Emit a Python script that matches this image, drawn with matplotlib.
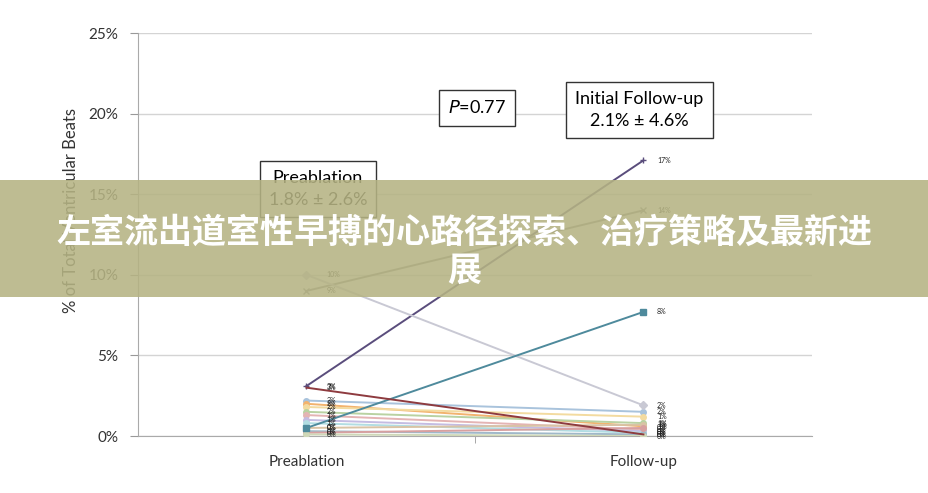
import matplotlib
matplotlib.use('Agg')
import matplotlib.pyplot as plt

plt.rcParams['font.family'] = ['Lato', 'DejaVu Sans']

# данные: значения до абляции и при контроле (по пациентам)
phases = ['Preablation', 'Follow-up']
pre_vals = [3.1, 9.0, 10.0, 0.5, 3.0, 2.2, 2.0, 1.8, 1.5, 1.3, 1.0, 0.8, 0.5, 0.3, 0.2, 0.1]
post_vals = [17.1, 14.0, 1.9, 7.7, 0.1, 1.5, 0.6, 1.2, 0.8, 0.4, 0.3, 0.2, 0.7, 0.1, 0.5, 0.0]
line_colors = ['#5a4d7c', '#8a8a8a', '#c9c9d4', '#4e8a9c', '#8e3b3f', '#a9c3dc',
               '#f2b36e', '#f3dba0', '#b9d2a2', '#e4b4b4', '#c4bce2', '#b2dde2',
               '#d9c3a5', '#9fb8c9', '#d8a0a0', '#cfd8b8']
line_markers = ['+', 'x', 'D', 's', 'None', 'o', 'o', 'o', 'o', 'o',
                'o', 'o', 'o', 'o', 'o', 'o']
yticks = [0, 5, 10, 15, 20, 25]
ytick_labels = ['0%', '5%', '10%', '15%', '20%', '25%']
title_cn = '左室流出道室性早搏的心路径探索、治疗策略及最新进\n展'

fig = plt.figure(figsize=(9.29, 4.93), dpi=100)
ax = fig.add_axes([0.1485, 0.1156, 0.7255, 0.8174])

for i in range(len(pre_vals)):
    ax.plot([0, 1], [pre_vals[i], post_vals[i]], color=line_colors[i], lw=1.4,
            marker=line_markers[i], ms=5 if line_markers[i] in ['+', 'x'] else 4,
            mew=1.0, zorder=3 + (i < 5))
    ax.text(0.06, pre_vals[i], f'{round(pre_vals[i]):d}%', fontsize=5,
            va='center', ha='left', color='#222222', zorder=6)
    ax.text(1.04, post_vals[i], f'{round(post_vals[i]):d}%', fontsize=5,
            va='center', ha='left', color='#222222', zorder=6)

ax.set_xlim(-0.5, 1.5)
ax.set_ylim(0, 25)
ax.set_yticks(yticks)
ax.set_yticklabels(ytick_labels, fontsize=11, color='#333333')
ax.set_xticks([0, 1])
ax.set_xticklabels(phases, fontsize=11, color='#333333')
ax.set_xticks([0.5], minor=True)
ax.tick_params(axis='x', which='major', length=0, pad=14)
ax.tick_params(axis='x', which='minor', length=5, color='#999999', direction='out')
ax.tick_params(axis='y', length=6, color='#999999', pad=8)
ax.grid(axis='y', color='#d4d4d4', lw=1)
ax.set_axisbelow(True)
for s in ['top', 'right']:
    ax.spines[s].set_visible(False)
for s in ['left', 'bottom']:
    ax.spines[s].set_color('#aaaaaa')

ax.set_ylabel('% of Total Ventricular Beats', fontsize=12, color='#333333')
ax.yaxis.set_label_coords(-0.088, 0.56)

box = dict(boxstyle='square,pad=0.5', fc='white', ec='#333333', lw=1)
ax.text(0.034, 15.3, 'Preablation\n1.8% ± 2.6%', fontsize=13, ha='center',
        va='center', bbox=box, zorder=7, linespacing=1.45)
ax.text(0.506, 20.35, '$P$=0.77', fontsize=13, ha='center', va='center',
        bbox=box, zorder=7)
ax.text(0.988, 20.2, 'Initial Follow-up\n2.1% ± 4.6%', fontsize=13, ha='center',
        va='center', bbox=box, zorder=7, linespacing=1.45)

# баннер с заголовком поверх графика
fig.patches.append(plt.Rectangle((0, 1 - 297 / 493), 1, 117 / 493,
                                 transform=fig.transFigure, fc='#b5b383',
                                 alpha=0.88, zorder=10))
fig.text(0.5, 1 - 251 / 493, title_cn, fontsize=24.5, fontweight='bold',
         color='white', ha='center', va='center', zorder=11,
         family=['Noto Sans CJK SC', 'DejaVu Sans'], linespacing=1.1)

fig.savefig('out.png', dpi=100)
